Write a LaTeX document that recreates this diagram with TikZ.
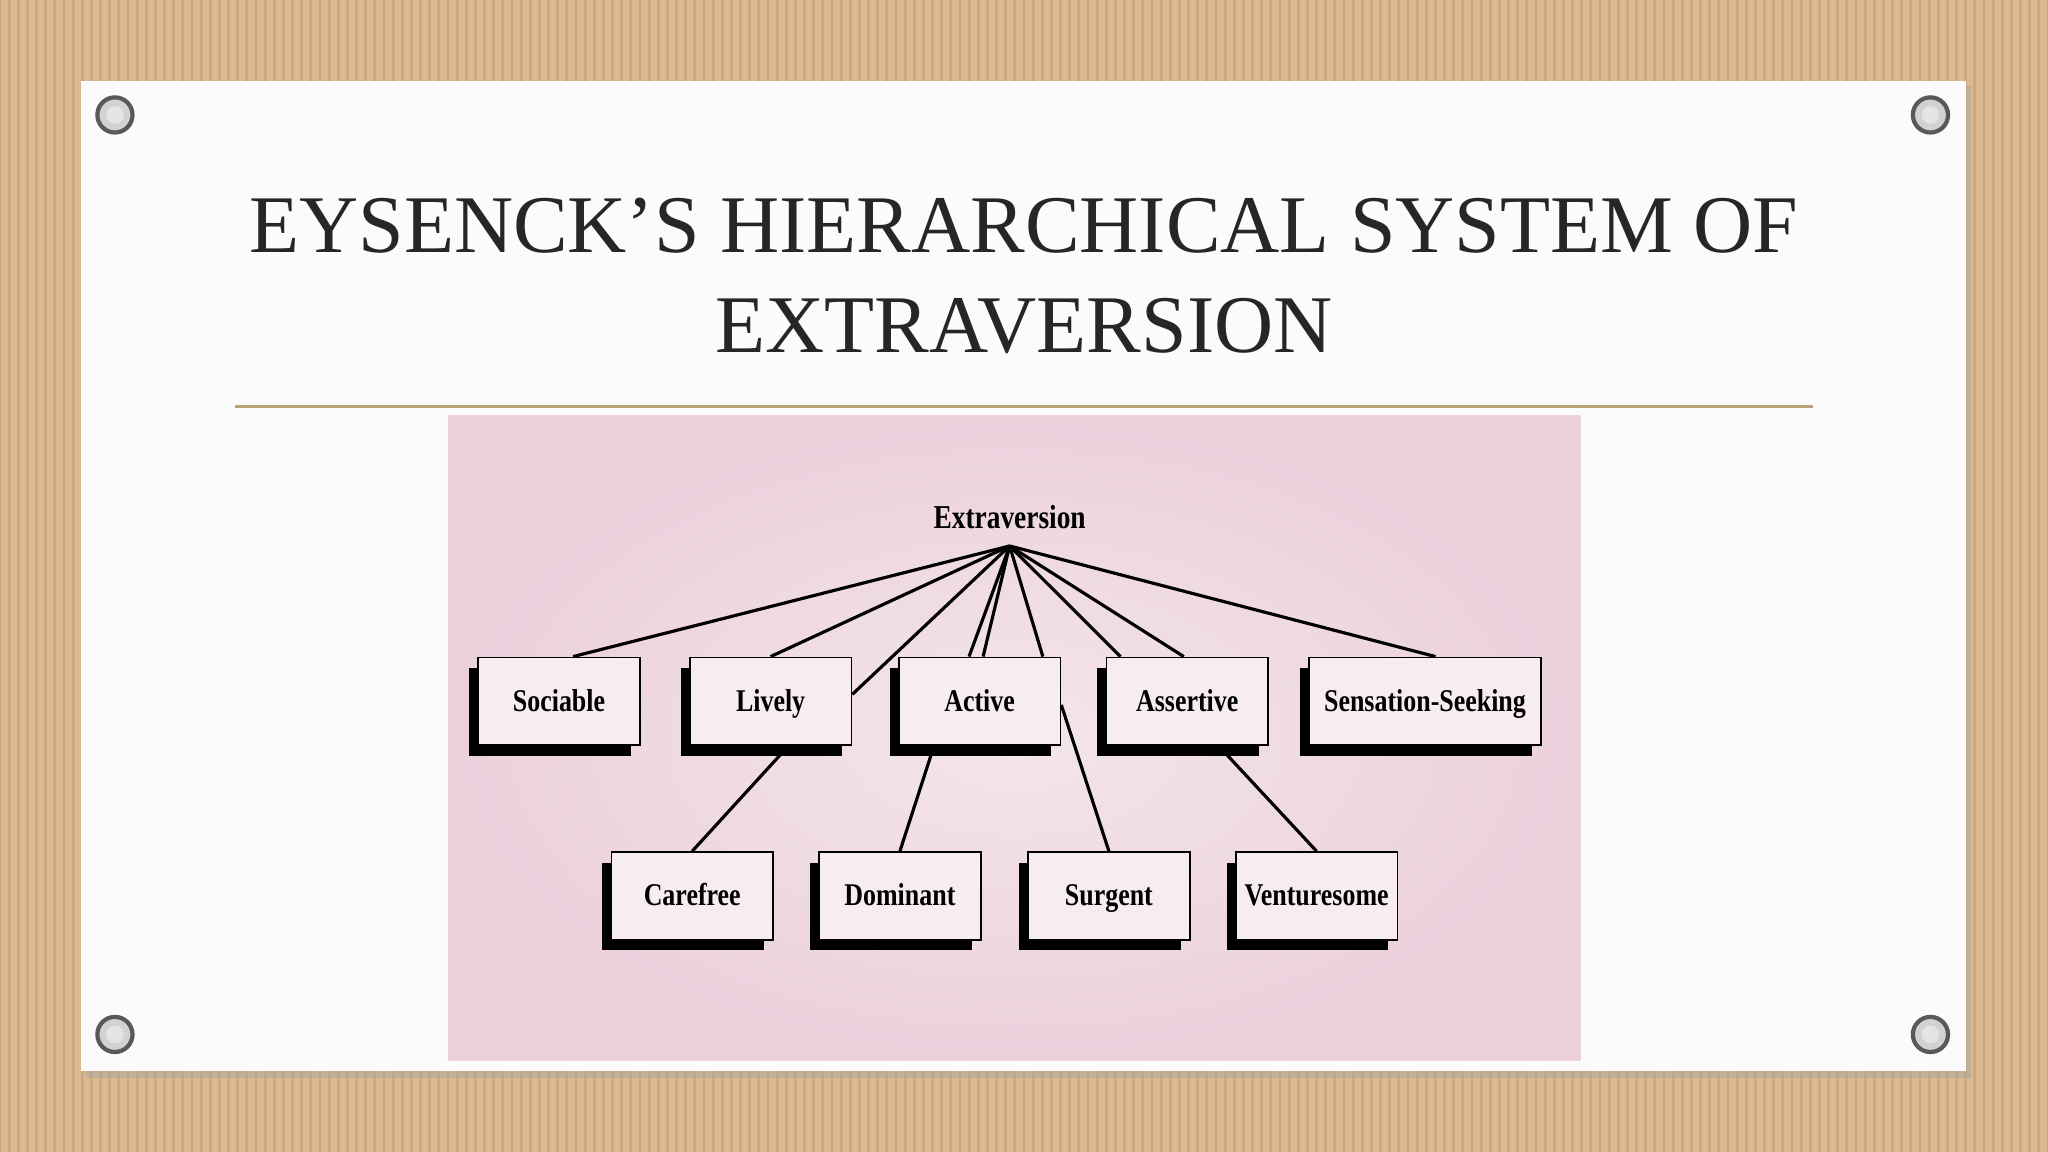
\documentclass[tikz,border=0pt]{standalone}
\usepackage{fontspec}
\setmainfont{Liberation Serif}
\newfontfamily\lab[FakeStretch=0.82]{Liberation Serif}
\usetikzlibrary{shadows,calc}
\definecolor{card}{HTML}{DDB98F}
\definecolor{cardd}{HTML}{CFA97E}
\definecolor{pinkbg}{HTML}{EBD0DC}
\definecolor{pinkc}{HTML}{F4E6EA}
\definecolor{goldline}{HTML}{B8A57A}
\tikzset{
  box/.style={draw=black, line width=0.5pt, fill=pinkc!70!white, minimum width=46pt, minimum height=25pt,
    inner sep=1pt, text height=1.6ex, text depth=0.4ex, font=\lab\bfseries\fontsize{9}{10}\selectfont,
    drop shadow={shadow xshift=-2.6pt, shadow yshift=-3pt, fill=black, opacity=1}},
  conn/.style={line width=0.9pt, black},
  grom/.style={circle, draw=gray!70!black, line width=1.2pt, fill=gray!35, minimum size=10pt, inner sep=0pt}
}
\begin{document}
\begin{tikzpicture}[x=0.01306cm, y=-0.01306cm]
\useasboundingbox (0,0) rectangle (1568,882);
\fill[card] (0,0) rectangle (1568,882);
\foreach \i in {0,7,...,1568} \draw[cardd, line width=0.8pt] (\i,0) -- (\i,882);
\fill[black!35, opacity=0.5] (66,66) rectangle (1509,825);
\fill[white!97!gray] (62,62) rectangle (1505,820);
\foreach \p/\n in {{(88,88)}/g1,{(1478,88)}/g2,{(88,792)}/g3,{(1478,792)}/g4}
  \node[grom] (\n) at \p {};
\foreach \n in {g1,g2,g3,g4} \fill[white!80!gray] (\n) circle (2.5pt);
\node[font=\fontsize{23.3}{28.5}\selectfont, text=black!85, align=center] (title) at (784,211)
  {EYSENCK’S HIERARCHICAL SYSTEM OF\\EXTRAVERSION};
\draw[goldline, line width=0.8pt] (180,311) -- (1388,311);
\shade[inner color=pinkc, outer color=pinkbg] (343,318) rectangle (1210,812);
\node[font=\lab\bfseries\fontsize{9.5}{10}\selectfont] (ext) at (773,396) {Extraversion};
\coordinate (root) at (773,418);
\node[box] (soc) at (428,537) {Sociable};
\node[box] (liv) at (590,537) {Lively};
\node[box] (act) at (750,537) {Active};
\node[box] (ass) at (909,537) {Assertive};
\node[box, minimum width=66pt] (sen) at (1091,537) {Sensation-Seeking};
\node[box] (car) at (530,686) {Carefree};
\node[box] (dom) at (689,686) {Dominant};
\node[box] (sur) at (849,686) {Surgent};
\node[box] (ven) at (1008,686) {Venturesome};
\draw[conn] (root) -- ([xshift=4pt]soc.north);
\draw[conn] (root) -- (liv.north);
\draw[conn] (root) -- ([yshift=2pt]liv.east);
\draw[conn] (root) -- ([xshift=-3pt]act.north);
\draw[conn] (root) -- ([xshift=1pt]act.north);
\draw[conn] (root) -- ([xshift=18pt]act.north);
\draw[conn] (root) -- ([xshift=-19pt]ass.north);
\draw[conn] (root) -- ([xshift=-1pt]ass.north);
\draw[conn] (root) -- ([xshift=3pt]sen.north);
\draw[conn] ([xshift=5pt]liv.south) -- (car.north);
\draw[conn] ([xshift=-13pt]act.south) -- (dom.north);
\draw[conn] ([yshift=-1pt]act.east) -- (sur.north);
\draw[conn] ([xshift=9pt]ass.south) -- (ven.north);
\end{tikzpicture}
\end{document}
